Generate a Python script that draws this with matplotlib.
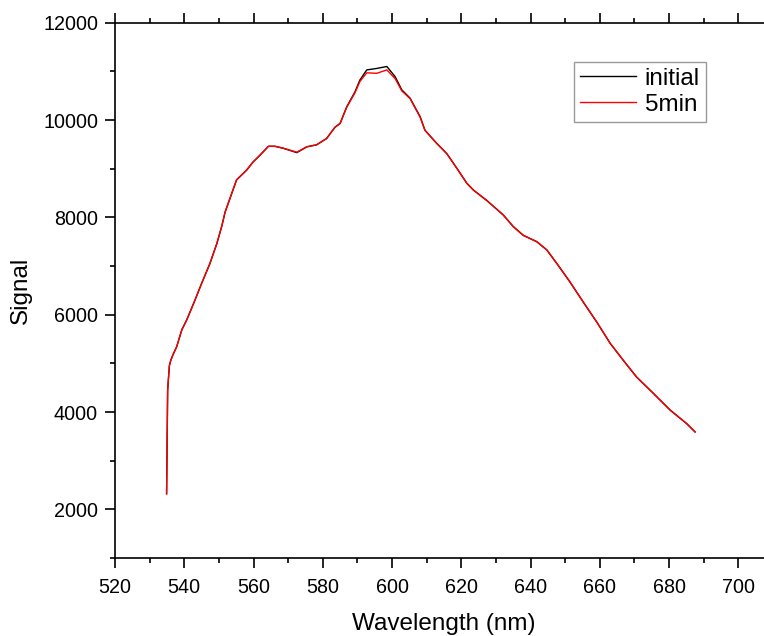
import matplotlib
matplotlib.use("Agg")
import matplotlib.pyplot as plt
from matplotlib.ticker import MultipleLocator

plt.rcParams['font.family'] = ['Liberation Sans', 'DejaVu Sans']

# Data
wavelength = [534.9, 535.2, 535.7, 536.1, 536.7, 537.8, 539.3, 540.7, 543.1, 545.0,
              547.4, 549.4, 550.8, 551.8, 553.2, 555.1, 558.0, 559.9, 561.9, 564.3,
              566.2, 568.6, 572.5, 575.4, 578.2, 581.1, 583.5, 585.0, 586.9, 589.3,
              590.7, 592.7, 595.6, 598.5, 600.9, 602.8, 605.2, 608.1, 609.5, 612.9,
              615.8, 618.7, 621.6, 623.5, 627.3, 632.1, 635.0, 637.9, 641.8, 644.7,
              647.6, 651.4, 655.2, 659.1, 663.0, 666.8, 670.6, 675.5, 680.3, 685.1,
              687.5]
signal_initial = [2320, 4450, 4950, 5060, 5170, 5340, 5690, 5890, 6300, 6640,
                  7050, 7460, 7810, 8110, 8390, 8770, 8970, 9140, 9280, 9460,
                  9460, 9420, 9330, 9450, 9490, 9620, 9850, 9930, 10270, 10580,
                  10820, 11030, 11060, 11100, 10890, 10620, 10450, 10070, 9790, 9520,
                  9310, 9010, 8700, 8560, 8350, 8050, 7810, 7630, 7500, 7330,
                  7050, 6670, 6260, 5850, 5410, 5060, 4720, 4380, 4040, 3760,
                  3590]
signal_5min = [2320, 4450, 4950, 5060, 5170, 5340, 5690, 5890, 6300, 6640,
               7050, 7460, 7810, 8110, 8390, 8770, 8970, 9140, 9280, 9460,
               9460, 9420, 9340, 9450, 9490, 9620, 9850, 9930, 10260, 10560,
               10790, 10970, 10960, 11030, 10850, 10600, 10440, 10060, 9790, 9520,
               9310, 9010, 8700, 8560, 8350, 8050, 7810, 7630, 7500, 7330,
               7050, 6670, 6260, 5850, 5410, 5060, 4720, 4380, 4040, 3760,
               3590]

fig = plt.figure(figsize=(7.64, 6.36), dpi=100)
ax = fig.add_axes([115 / 764, 1 - 558 / 636, 658 / 764, 535.3 / 636])

ax.plot(wavelength, signal_initial, color="black", linewidth=1.0, label="initial")
ax.plot(wavelength, signal_5min, color="red", linewidth=1.0, label="5min")

ax.set_xlim(520, 710)
ax.set_ylim(1000, 12000)
ax.xaxis.set_major_locator(MultipleLocator(20))
ax.xaxis.set_minor_locator(MultipleLocator(10))
ax.yaxis.set_major_locator(MultipleLocator(2000))
ax.yaxis.set_minor_locator(MultipleLocator(1000))

for side in ax.spines:
    ax.spines[side].set_linewidth(1.2)

ax.tick_params(which="both", direction="out", width=1.2, labelsize=14.2,
               top=True, right=False)
ax.tick_params(which="major", length=7.2)
ax.tick_params(which="minor", length=3.6)
ax.tick_params(axis="x", pad=7)
ax.tick_params(axis="y", pad=5)

ax.set_xlabel("Wavelength (nm)", fontsize=17.5, labelpad=12)
ax.set_ylabel("Signal", fontsize=17.5, labelpad=8)

leg = ax.legend(loc="upper left", bbox_to_anchor=(0.698, 0.927), borderaxespad=0,
                fontsize=17.5, fancybox=False, frameon=True, handlelength=2.3,
                handletextpad=0.35, labelspacing=0.15, borderpad=0.25)
leg.get_frame().set_edgecolor("#808080")
leg.get_frame().set_linewidth(1.0)

fig.savefig("out.png", dpi=100)
